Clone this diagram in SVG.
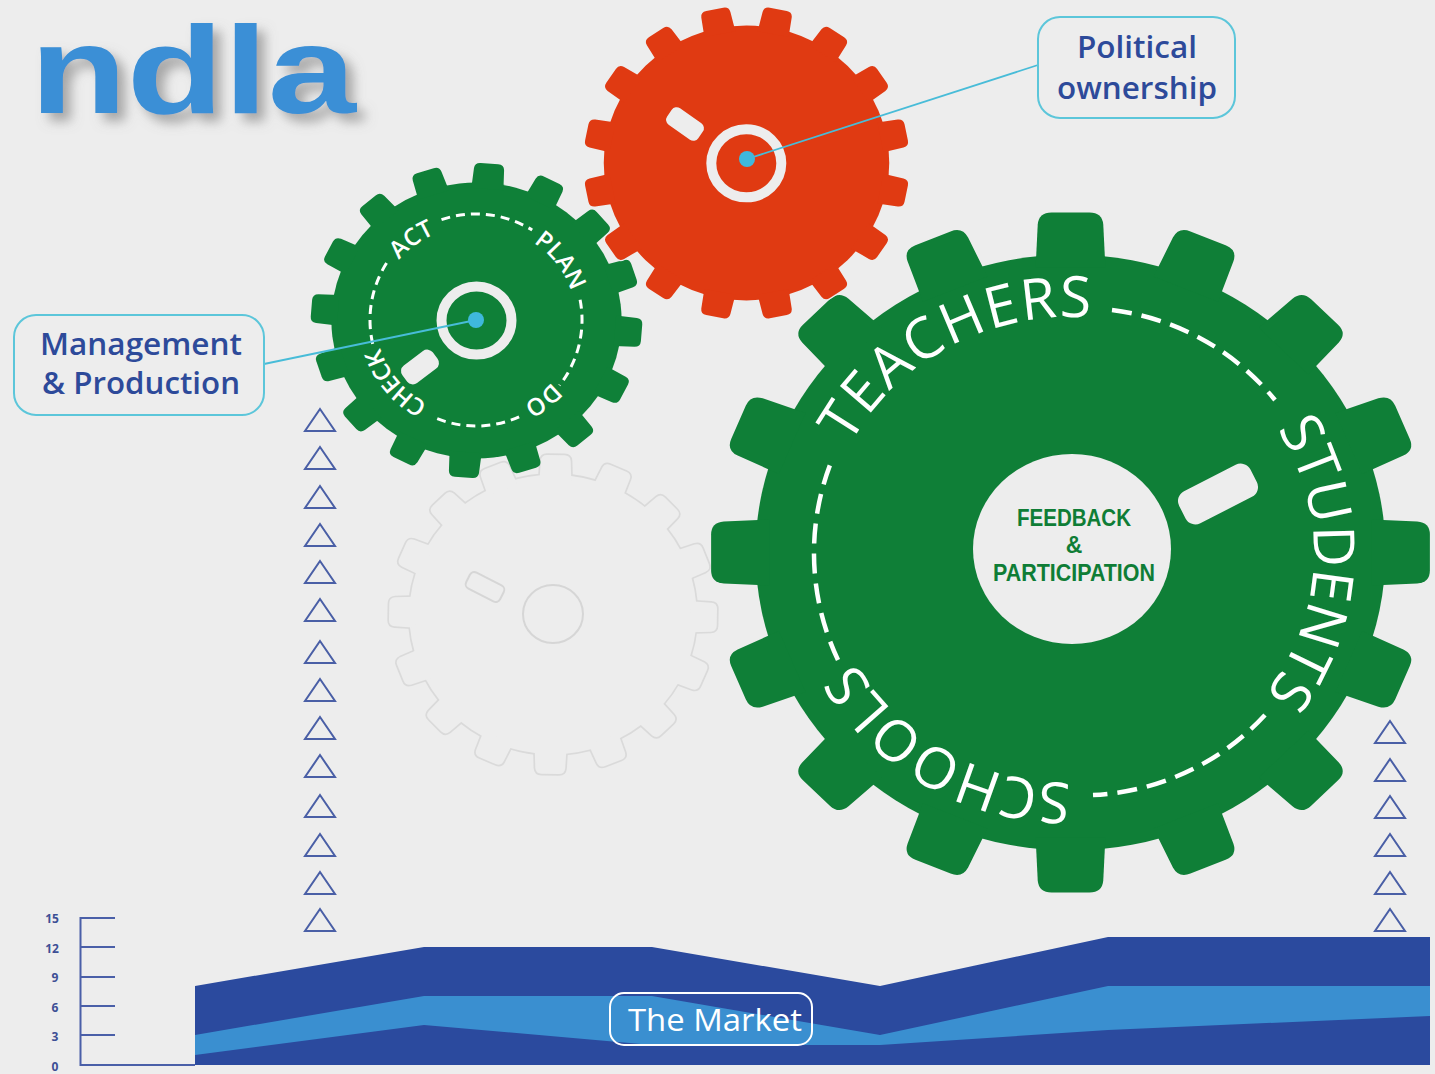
<svg xmlns="http://www.w3.org/2000/svg" width="1435" height="1074" viewBox="0 0 1435 1074">
<style>
.tx{font-family:"Open Sans","Noto Sans","Liberation Sans",sans-serif}
.big{font-size:57px;fill:#fff;font-weight:500}
.sm{font-size:24px;fill:#fff;font-weight:600}
.dash{fill:none;stroke:#fff}
.hole{fill:#ededed}
.lab{font-size:31px;fill:#2d4a9a;text-anchor:middle;font-weight:600}
.box{fill:#ededed;stroke:#5cc6da;stroke-width:2}
.tri{fill:none;stroke:#4a5fa6;stroke-width:2}
.ax{stroke:#4a5fa8;stroke-width:2;fill:none}
.num{font-family:"Open Sans","Liberation Sans",sans-serif;font-size:12px;font-weight:700;fill:#3d4f95;text-anchor:middle}
.conn{stroke:#48bcd8;stroke-width:1.8;fill:none}
.fb{font-family:"Liberation Sans",sans-serif;font-size:23px;font-weight:700;fill:#0f7d36;text-anchor:middle}
</style>
<defs>
<filter id="sh" x="-20%" y="-30%" width="150%" height="170%"><feDropShadow dx="8" dy="8" stdDeviation="6" flood-color="#777" flood-opacity=".6"/></filter>
<path id="t" d="M-33,-285L-31,-328Q-30,-340 -18,-340L18,-340Q30,-340 31,-328L33,-285Z"/>
<g id="gear">
<circle r="298"/>
<use href="#t"/><use href="#t" transform="rotate(22.5)"/><use href="#t" transform="rotate(45)"/><use href="#t" transform="rotate(67.5)"/>
<use href="#t" transform="rotate(90)"/><use href="#t" transform="rotate(112.5)"/><use href="#t" transform="rotate(135)"/><use href="#t" transform="rotate(157.5)"/>
<use href="#t" transform="rotate(180)"/><use href="#t" transform="rotate(202.5)"/><use href="#t" transform="rotate(225)"/><use href="#t" transform="rotate(247.5)"/>
<use href="#t" transform="rotate(270)"/><use href="#t" transform="rotate(292.5)"/><use href="#t" transform="rotate(315)"/><use href="#t" transform="rotate(337.5)"/>
</g>
<path id="a1" d="M850,445A248,235 0 0 1 1135,325"/>
<path id="a2" d="M1277,429A244,235 0 0 1 1228,732"/>
<path id="a3" d="M1071,783A245,231 0 0 1 840.800,631"/>
<path id="b1" d="M399,260A100,95 0 0 1 458.600,227"/>
<path id="b2" d="M533.400,242.700A100,95 0 0 1 575.600,312"/>
<path id="b3" d="M552,382A100,95 0 0 1 493,414"/>
<path id="b4" d="M427.500,403.600A100,95 0 0 1 376.400,328.800"/>
<polygon id="tr" points="0,-11 15,11 -15,11"/>
</defs>
<rect width="1435" height="1074" fill="#ededed"/>

<g id="logo"><text x="30" y="113" font-family="Liberation Sans, sans-serif" font-size="124" font-weight="700" fill="#3a8fd6" textLength="326" lengthAdjust="spacingAndGlyphs" filter="url(#sh)">ndla</text></g>

<g id="gear-empty">
<use href="#gear" transform="translate(553,614.500) scale(.482,.469) rotate(1)" fill="#dadada" stroke="#dadada" stroke-width="7"/>
<use href="#gear" transform="translate(553,614.500) scale(.482,.469) rotate(1)" fill="#ededed"/>
<ellipse cx="553" cy="614" rx="30" ry="29" fill="none" stroke="#d6d6d6" stroke-width="2"/>
<rect x="-19" y="-9" width="38" height="18" rx="5" transform="translate(485,587) rotate(27)" fill="none" stroke="#d6d6d6" stroke-width="2"/>
</g>

<g id="gear-plan">
<use href="#gear" transform="translate(476.500,320.500) scale(.487,.463) rotate(4.500)" fill="#0f8038"/>
<ellipse cx="476.500" cy="320.500" rx="35" ry="34" fill="none" stroke="#ededed" stroke-width="10"/>
<rect x="-19" y="-11" width="38" height="22" rx="7" class="hole" transform="translate(420,367) rotate(-37)"/>
<path class="dash" stroke-width="3" stroke-dasharray="9 6" d="M441.500,219.700A106,106 0 0 1 532.200,230.100M580.100,299.800A106,106 0 0 1 559.500,385.300M519.100,416.900A106,106 0 0 1 436.300,418.300M372.700,343.800A106,106 0 0 1 389.700,258.400"/>
<text class="tx sm"><textPath href="#b1">ACT</textPath></text>
<text class="tx sm"><textPath href="#b2">PLAN</textPath></text>
<text class="tx sm"><textPath href="#b3">DO</textPath></text>
<text class="tx sm" letter-spacing="-.6"><textPath href="#b4">CHECK</textPath></text>
</g>

<g id="gear-main">
<use href="#gear" transform="translate(1070.500,552.500) scale(1.057,1)" fill="#0f7f37"/>
<ellipse cx="1072" cy="549" rx="99" ry="95" fill="#ededed"/>
<rect x="-40" y="-18" width="80" height="36" rx="11" class="hole" transform="translate(1218,494) rotate(-27)"/>
<path class="dash" stroke-width="4.500" stroke-dasharray="20 10" d="M1112,310A250,250 0 0 1 1275,400M1265,715A250,250 0 0 1 1093,795M838,660A250,250 0 0 1 830,465"/>
<text class="tx big" letter-spacing="1.800"><textPath href="#a1">TEACHERS</textPath></text>
<text class="tx big"><textPath href="#a2">STUDENTS</textPath></text>
<text class="tx big"><textPath href="#a3">SCHOOLS</textPath></text>
<text class="fb" x="1074" y="526" textLength="114" lengthAdjust="spacingAndGlyphs">FEEDBACK</text>
<text class="fb" x="1074" y="553">&amp;</text>
<text class="fb" x="1074" y="581" textLength="162" lengthAdjust="spacingAndGlyphs">PARTICIPATION</text>
</g>

<g id="gear-red">
<use href="#gear" transform="translate(746.500,163) scale(.479,.461) rotate(11.250)" fill="#ededed" stroke="#ededed" stroke-width="6"/>
<use href="#gear" transform="translate(746.500,163) scale(.479,.461) rotate(11.250)" fill="#e03a12"/>
<ellipse cx="746.300" cy="163.300" rx="35" ry="34" fill="none" stroke="#ededed" stroke-width="10"/>
<rect x="-19" y="-10" width="38" height="20" rx="6" class="hole" transform="translate(685,124) rotate(35)"/>
</g>

<g id="connectors">
<line class="conn" x1="747" y1="159" x2="1038" y2="65"/>
<line class="conn" x1="264" y1="364" x2="476" y2="320"/>
<circle cx="747" cy="159" r="8" fill="#3fb8dc"/>
<circle cx="476" cy="320" r="8" fill="#3fb8dc"/>
</g>

<g id="label-political">
<rect class="box" x="1038" y="17" width="197" height="101" rx="22"/>
<text class="tx lab" x="1137" y="58" textLength="120" lengthAdjust="spacingAndGlyphs">Political</text>
<text class="tx lab" x="1137" y="99" textLength="160" lengthAdjust="spacingAndGlyphs">ownership</text>
</g>
<g id="label-management">
<rect class="box" x="14" y="315" width="250" height="100" rx="22"/>
<text class="tx lab" x="141" y="355" textLength="202" lengthAdjust="spacingAndGlyphs">Management</text>
<text class="tx lab" x="141" y="394" textLength="198" lengthAdjust="spacingAndGlyphs">&amp; Production</text>
</g>

<g id="triangles-left" class="tri">
<use href="#tr" x="320" y="420"/><use href="#tr" x="320" y="458"/><use href="#tr" x="320" y="497"/><use href="#tr" x="320" y="535"/><use href="#tr" x="320" y="572"/><use href="#tr" x="320" y="610"/><use href="#tr" x="320" y="652"/><use href="#tr" x="320" y="690"/><use href="#tr" x="320" y="728"/><use href="#tr" x="320" y="766"/><use href="#tr" x="320" y="806"/><use href="#tr" x="320" y="845"/><use href="#tr" x="320" y="883"/><use href="#tr" x="320" y="920"/>
</g>
<g id="triangles-right" class="tri">
<use href="#tr" x="1390" y="732"/><use href="#tr" x="1390" y="770"/><use href="#tr" x="1390" y="807"/><use href="#tr" x="1390" y="845"/><use href="#tr" x="1390" y="883"/><use href="#tr" x="1390" y="920"/>
</g>

<g id="chart">
<path class="ax" d="M115,918H80.500V1065H195M80,947H115M80,977H115M80,1006H115M80,1035H115"/>
<text class="num" x="52" y="923">15</text><text class="num" x="52" y="953">12</text><text class="num" x="55" y="982">9</text><text class="num" x="55" y="1012">6</text><text class="num" x="55" y="1041">3</text><text class="num" x="55" y="1071">0</text>
<polygon fill="#2b4a9e" points="195,986 424,947 652,947 880,986 1108,937 1430,937 1430,1065 195,1065"/>
<polygon fill="#3a8fd0" points="195,1035 424,996 652,996 880,1035 1108,986 1430,986 1430,1016 1108,1030 880,1045 652,1045 424,1025 195,1055"/>
</g>
<g id="label-market">
<rect x="610" y="993" width="202" height="52" rx="14" fill="none" stroke="#fff" stroke-width="2"/>
<text class="tx" x="715" y="1031" font-size="31" font-weight="500" fill="#fff" text-anchor="middle" textLength="174" lengthAdjust="spacingAndGlyphs">The Market</text>
</g>
</svg>
